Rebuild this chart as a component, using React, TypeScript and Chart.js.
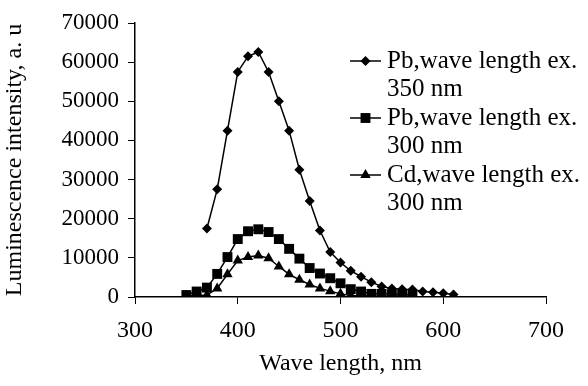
import React, { useEffect, useRef } from "react";
import { Chart, registerables } from "chart.js";
import { drawPoint } from "chart.js/helpers";

Chart.register(...registerables);

// Pb, excitation 350 nm
const pb350Wave = [370, 380, 390, 400, 410, 420, 430, 440, 450, 460, 470, 480, 490, 500, 510, 520, 530, 540, 550, 560, 570, 580, 590, 600, 610];
const pb350Values = [17500, 27500, 42500, 57500, 61500, 62600, 57500, 50000, 42500, 32500, 24500, 17000, 11500, 8800, 6700, 5200, 3800, 2700, 2200, 2000, 1900, 1400, 1200, 950, 650];

// Pb, excitation 300 nm
const pb300Wave = [350, 360, 370, 380, 390, 400, 410, 420, 430, 440, 450, 460, 470, 480, 490, 500, 510, 520, 530, 540, 550, 560, 570];
const pb300Values = [500, 1400, 2400, 5900, 10200, 14800, 16800, 17300, 16600, 14800, 12300, 9800, 7400, 6000, 4800, 3500, 2000, 1400, 800, 800, 700, 700, 600];

// Cd, excitation 300 nm
const cd300Wave = [350, 360, 370, 380, 390, 400, 410, 420, 430, 440, 450, 460, 470, 480, 490, 500, 510, 520, 530, 540, 550, 560, 570];
const cd300Values = [300, 300, 500, 2200, 5800, 9300, 10200, 10600, 9900, 7800, 5800, 4400, 3200, 2200, 1500, 800, 400, 300, 200, 200, 200, 200, 200];

const seriesLabels = [
  ["Pb,wave length ex.", "350 nm"],
  ["Pb,wave length ex.", "300 nm"],
  ["Cd,wave length ex.", "300 nm"],
];
const pointStyles = ["rectRot", "rect", "triangle"];
const pointRadii = [5, 7, 6];

const xAxisTitle = "Wave length, nm";
const yAxisTitle = "Luminescence intensity, a. u";
const xMin = 300, xMax = 700, xStep = 100;
const yMin = 0, yMax = 70000, yStep = 10000;

const FONT = '"Liberation Serif", "Times New Roman", serif';

const zip = (xs: number[], ys: number[]) => xs.map((x, i) => ({ x, y: ys[i] }));

const legendPlugin = {
  id: "customLegend",
  afterDraw(chart: any) {
    const ctx = chart.ctx;
    ctx.save();
    const rowStart = 61;
    const rowGap = 57;
    const lineGap = 28.5;
    chart.data.datasets.forEach((ds: any, i: number) => {
      const y = rowStart + i * rowGap;
      ctx.strokeStyle = "#000";
      ctx.lineWidth = 1.5;
      ctx.beginPath();
      ctx.moveTo(350, y);
      ctx.lineTo(381, y);
      ctx.stroke();
      ctx.fillStyle = "#000";
      drawPoint(ctx, { pointStyle: ds.pointStyle, radius: ds.pointRadius, rotation: 0, borderWidth: 0 }, 365.5, y);
      ctx.font = `25px ${FONT}`;
      ctx.textBaseline = "middle";
      ctx.textAlign = "left";
      const lbl = seriesLabels[i];
      ctx.fillText(lbl[0], 387, y);
      ctx.fillText(lbl[1], 387, y + lineGap);
    });
    ctx.restore();
  },
};

export default function App() {
  const ref = useRef<HTMLCanvasElement | null>(null);
  useEffect(() => {
    if (!ref.current) return;
    const series = [zip(pb350Wave, pb350Values), zip(pb300Wave, pb300Values), zip(cd300Wave, cd300Values)];
    const chart = new Chart(ref.current, {
      type: "line",
      data: {
        datasets: series.map((d, i) => ({
          label: seriesLabels[i].join(" "),
          data: d,
          borderColor: "#000",
          backgroundColor: "#000",
          borderWidth: 1.5,
          pointStyle: pointStyles[i] as any,
          pointRadius: pointRadii[i],
          pointBackgroundColor: "#000",
          pointBorderColor: "#000",
          pointBorderWidth: 0,
          tension: 0,
          fill: false,
        })),
      },
      options: {
        animation: false,
        responsive: true,
        maintainAspectRatio: false,
        layout: { padding: { left: 0, right: 42, top: 23, bottom: 0 } },
        plugins: { legend: { display: false }, tooltip: { enabled: false } },
        scales: {
          x: {
            type: "linear",
            min: xMin,
            max: xMax,
            ticks: {
              stepSize: xStep,
              color: "#000",
              font: { family: FONT, size: 24 },
              padding: 12,
              maxRotation: 0,
              callback: (v: any) => String(v),
            },
            grid: { drawOnChartArea: false, drawTicks: true, tickLength: 7, color: "#000", lineWidth: 1 },
            border: { color: "#000", width: 1.5 },
            title: {
              display: true,
              text: xAxisTitle,
              color: "#000",
              font: { family: FONT, size: 24 },
              padding: { top: 0, bottom: 8 },
            },
            afterFit: (s: any) => { s.height = 386 - 297; },
          },
          y: {
            type: "linear",
            min: yMin,
            max: yMax,
            ticks: {
              stepSize: yStep,
              color: "#000",
              font: { family: FONT, size: 23 },
              padding: 9,
              callback: (v: any) => String(v),
            },
            grid: { drawOnChartArea: false, drawTicks: true, tickLength: 7, color: "#000", lineWidth: 1 },
            border: { color: "#000", width: 1.5 },
            title: {
              display: true,
              text: yAxisTitle,
              color: "#000",
              font: { family: FONT, size: 24 },
              padding: { top: 0, bottom: 0 },
            },
            afterFit: (s: any) => { s.width = 135; },
          },
        },
      },
      plugins: [legendPlugin],
    });
    return () => chart.destroy();
  }, []);
  return (
    <div style={{ position: "absolute", left: 0, top: 0, width: 588, height: 386, background: "#fff" }}>
      <canvas ref={ref} />
    </div>
  );
}
